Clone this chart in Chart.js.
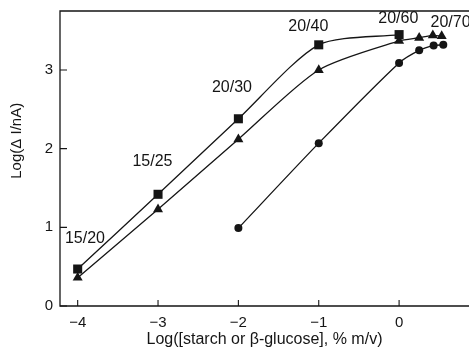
<!DOCTYPE html>
<html>
<head>
<meta charset="utf-8">
<script src="https://cdn.jsdelivr.net/npm/chart.js@4.4.1/dist/chart.umd.min.js"></script>
<style>
  html, body { margin: 0; padding: 0; background: #ffffff; }
  #wrap { width: 469px; height: 348px; position: relative; }
</style>
</head>
<body>
<div id="wrap"><canvas id="chart"></canvas></div>
<script>
// Log concentration (x) against log response (y) for the three series
const squareX = [-4, -3, -2, -1, 0];
const squareY = [0.47, 1.42, 2.38, 3.32, 3.45];

const triangleX = [-4, -3, -2, -1, 0, 0.25, 0.42, 0.53];
const triangleY = [0.36, 1.23, 2.12, 3.0, 3.37, 3.41, 3.44, 3.43];

const circleX = [-2, -1, 0, 0.25, 0.43, 0.55];
const circleY = [0.99, 2.07, 3.09, 3.25, 3.31, 3.32];

// Dilution labels placed next to the curves
const noteText = ['15/20', '15/25', '20/30', '20/40', '20/60', '20/70'];
const noteX = [-3.91, -3.07, -2.08, -1.13, -0.01, 0.64];
const noteY = [0.86, 1.84, 2.78, 3.55, 3.65, 3.60];

const xTicks = [-4, -3, -2, -1, 0];
const yTicks = [0, 1, 2, 3];

const xTitle = 'Log([starch or \u03b2-glucose], % m/v)';
const yTitle = 'Log(\u0394 I/nA)';

const INK = '#151515';
const FONT = 'Arial, "Liberation Sans", Helvetica, sans-serif';

function pairs(xs, ys) { return xs.map((x, i) => ({ x: x, y: ys[i] })); }

function series(xs, ys, style, radius) {
  return {
    data: pairs(xs, ys),
    showLine: true,
    borderColor: INK,
    borderWidth: 1.3,
    backgroundColor: INK,
    pointStyle: style,
    pointRadius: radius,
    pointHoverRadius: radius,
    pointBorderWidth: 0,
    tension: 0.25,
    clip: false
  };
}

// Frame, inward tick marks, vertical axis title and curve labels
const decorations = {
  id: 'decorations',
  afterDraw(chart) {
    const { ctx, chartArea: a, scales } = chart;
    ctx.save();
    ctx.strokeStyle = INK;
    ctx.lineWidth = 1.3;
    ctx.beginPath();
    ctx.moveTo(chart.width + 2, a.top);
    ctx.lineTo(a.left, a.top);
    ctx.lineTo(a.left, a.bottom);
    ctx.lineTo(chart.width + 2, a.bottom);
    ctx.stroke();

    ctx.lineWidth = 1.1;
    ctx.beginPath();
    xTicks.forEach(v => {
      const px = scales.x.getPixelForValue(v);
      ctx.moveTo(px, a.bottom);
      ctx.lineTo(px, a.bottom - 6);
    });
    yTicks.forEach(v => {
      const py = scales.y.getPixelForValue(v);
      ctx.moveTo(a.left, py);
      ctx.lineTo(a.left + 7, py);
    });
    ctx.stroke();

    ctx.fillStyle = INK;
    ctx.textAlign = 'center';
    ctx.textBaseline = 'middle';

    // vertical axis title, centred a little above the middle of the plot
    ctx.save();
    ctx.font = '15px ' + FONT;
    ctx.translate(17, scales.y.getPixelForValue(2.1));
    ctx.rotate(-Math.PI / 2);
    ctx.fillText(yTitle, 0, 0);
    ctx.restore();

    ctx.font = '16px ' + FONT;
    noteText.forEach((t, i) => {
      ctx.fillText(t, scales.x.getPixelForValue(noteX[i]), scales.y.getPixelForValue(noteY[i]));
    });
    ctx.restore();
  }
};

new Chart(document.getElementById('chart'), {
  type: 'scatter',
  data: {
    datasets: [
      series(squareX, squareY, 'rect', 6.4),
      series(triangleX, triangleY, 'triangle', 5.8),
      series(circleX, circleY, 'circle', 4)
    ]
  },
  options: {
    responsive: true,
    maintainAspectRatio: false,
    animation: false,
    events: [],
    layout: { autoPadding: false, padding: { top: 11, right: 0, bottom: 0, left: 0 } },
    plugins: { legend: { display: false }, tooltip: { enabled: false } },
    scales: {
      x: {
        type: 'linear',
        min: -4.22,
        max: 0.87,
        border: { display: false },
        grid: { display: false, drawTicks: false },
        afterBuildTicks(scale) { scale.ticks = xTicks.map(v => ({ value: v })); },
        afterFit(scale) {
          scale.height = 42;
          scale.paddingLeft = 0;
          scale.paddingRight = 0;
        },
        ticks: {
          padding: 8,
          color: INK,
          font: { family: FONT, size: 15 },
          callback: v => (v < 0 ? '\u2212' + Math.abs(v) : String(v))
        },
        title: {
          display: true,
          text: xTitle,
          color: INK,
          font: { family: FONT, size: 16, lineHeight: 1 },
          padding: { top: 0, bottom: 0 }
        }
      },
      y: {
        type: 'linear',
        min: 0,
        max: 3.75,
        border: { display: false },
        grid: { display: false, drawTicks: false },
        afterBuildTicks(scale) { scale.ticks = yTicks.map(v => ({ value: v })); },
        afterFit(scale) {
          scale.width = 60;
          scale.paddingTop = 0;
          scale.paddingBottom = 0;
        },
        ticks: {
          padding: 7,
          color: INK,
          font: { family: FONT, size: 15 }
        },
        title: { display: false }
      }
    }
  },
  plugins: [decorations]
});
</script>
</body>
</html>
